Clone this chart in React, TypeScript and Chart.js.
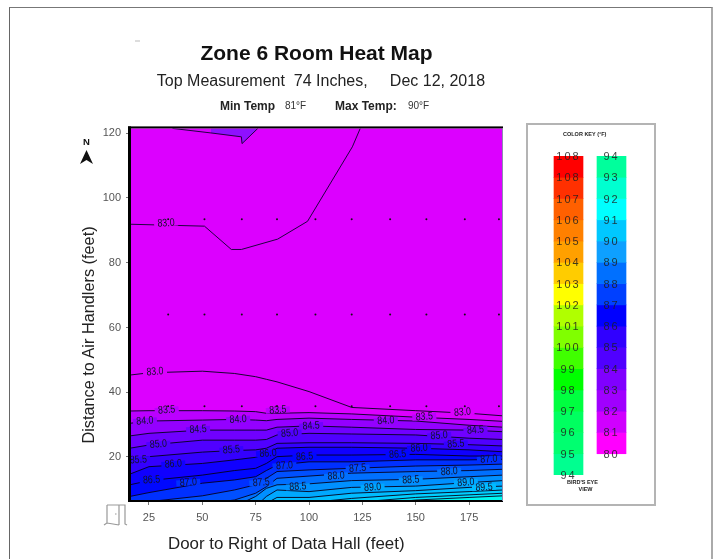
import React, { useEffect, useRef } from "react";
import { Chart, registerables } from "chart.js";

Chart.register(...registerables);

const FONT = "'Liberation Sans', Arial, sans-serif";

// ---- axes -----------------------------------------------------------------
const xTicks = [25, 50, 75, 100, 125, 150, 175];
const yTicks = [20, 40, 60, 80, 100, 120];
const xRange = [16.1, 190.9];
const yRange = [6.4, 121.5];

// ---- contour lines: y (feet) at each contourX (feet) ------------------------
const contourX = [16, 25, 50, 65, 75, 80, 85, 100, 120, 150, 175, 191];
const c830 = [45.3, 46.0, 46.5, 45.8, 44.8, 44.0, 43.2, 40.2, 35.3, 34.3, 33.5, 32.7];
const c835 = [34.2, 34.3, 34.3, 34.2, 34.0, 33.5, 33.5, 33.7, 33.3, 32.3, 31.6, 31.0];
const c840 = [30.4, 31.1, 31.4, 31.6, 31.4, 31.2, 31.6, 32.0, 31.6, 31.1, 29.8, 29.2];
const c845 = [26.5, 27.3, 28.3, 28.3, 28.3, 28.3, 29.2, 29.6, 29.2, 28.5, 28.3, 27.8];
const c850 = [22.7, 23.7, 25.2, 25.2, 25.2, 25.4, 26.8, 27.3, 27.1, 26.8, 25.8, 25.4];
const c855 = [19.1, 20.1, 21.5, 22.0, 22.2, 22.7, 24.2, 24.4, 24.4, 24.2, 23.8, 23.4];
const c860 = [14.7, 17.0, 18.0, 19.1, 19.9, 20.9, 22.7, 23.0, 23.0, 22.7, 22.2, 21.6];
const c865 = [11.4, 12.7, 14.4, 15.8, 16.5, 18.0, 20.1, 20.6, 20.6, 20.8, 20.3, 20.3];
const c870 = [7.8, 9.0, 11.9, 12.9, 13.9, 15.8, 17.5, 18.5, 18.5, 19.1, 19.1, 19.3];
const c875 = [3.6, 6.2, 8.0, 9.8, 11.4, 13.4, 15.5, 16.0, 16.5, 17.2, 17.5, 17.8];
const c880 = [0.5, 2.6, 5.5, 6.7, 8.8, 10.8, 13.4, 14.1, 15.0, 15.5, 15.8, 16.2];
const c885 = [-1.5, 0.5, 3.1, 4.7, 7.8, 10.3, 11.4, 11.7, 12.7, 13.1, 13.9, 14.4];
const c890 = [-4, -2, 0.5, 2, 4.7, 7.8, 9.8, 9.3, 10.6, 11.0, 12.1, 12.7];
const c895 = [-6, -4, -2, 0, 2.6, 5.7, 7.5, 7.5, 8.8, 9.6, 10.6, 11.0];
const c900 = [-8, -6, -4, -2, 0.5, 3.6, 5.7, 5.9, 7.2, 8.6, 9.3, 9.8];
const c905 = [-10, -8, -6, -4, -2, 1.6, 3.6, 3.8, 5.9, 7.5, 8.3, 8.8];
const c910 = [-12, -10, -8, -6, -4, -1, 1.6, 2.2, 4.7, 6.7, 7.5, 8.0];

const upperX = [16, 51, 63.6, 68.3, 85.3, 99.3, 120.3, 124];
const upperY = [91.9, 91.3, 84.1, 84.1, 87.3, 92.8, 115.8, 121.5];
const pocketEdgeX = [36, 54];
const pocketEdgeY = [121.5, 120.1];
const pocketX = [54, 68.3, 68.6, 76];
const pocketY = [120.1, 118.9, 116.8, 121.5];

// ---- sensor dots ------------------------------------------------------------
const dotX = [34, 51, 68.5, 85, 103, 120, 138, 155, 173, 189];
const dotY = [93.4, 64, 35.7];

// ---- contour label positions: [text, x, y] -----------------------------------
const contourLabels: [string, number, number][] = [
  ["83.0", 33, 92.2], ["83.0", 27.8, 46.3], ["83.0", 171.9, 33.8],
  ["83.5", 33.3, 34.5], ["83.5", 85.4, 34.5], ["83.5", 154, 32.4],
  ["84.0", 23.1, 31.1], ["84.0", 66.8, 31.6], ["84.0", 136, 31.2],
  ["84.5", 48, 28.5], ["84.5", 101, 29.6], ["84.5", 178, 28.3],
  ["85.0", 29.4, 23.9], ["85.0", 90.9, 27.3], ["85.0", 161, 26.6],
  ["85.5", 20, 19.1], ["85.5", 63.6, 22.2], ["85.5", 168.8, 24],
  ["86.0", 36.4, 17.8], ["86.0", 80.8, 21.1], ["86.0", 151.6, 22.7],
  ["86.5", 26.2, 12.9], ["86.5", 97.9, 20.1], ["86.5", 141.5, 20.8],
  ["87.0", 43.4, 12.1], ["87.0", 88.5, 17.3], ["87.0", 184.3, 19.3],
  ["87.5", 77.6, 12.1], ["87.5", 122.8, 16.5],
  ["88.0", 112.7, 14.1], ["88.0", 165.7, 15.5],
  ["88.5", 94.8, 10.8], ["88.5", 147.7, 12.9],
  ["89.0", 129.8, 10.6], ["89.0", 173.5, 12.1],
  ["89.5", 182, 10.6],
];

// ---- colour key ---------------------------------------------------------------
const keyColumns = ["warm", "cool"];
const warmLabels = ["108", "108", "107", "106", "105", "104", "103", "102", "101", "100", "99", "98", "97", "96", "95", "94"];
const coolLabels = ["94", "93", "92", "91", "90", "89", "88", "87", "86", "85", "84", "83", "82", "81", "80"];
const warmColors = ["#ff0000", "#ff3000", "#ff6000", "#ff8000", "#ffa000", "#ffcc00", "#ffff00", "#b0ff00", "#80ff00", "#40ff00", "#00ff00", "#00ff40", "#00ff60", "#00ff70", "#00ff90"];
const coolColors = ["#00ff9c", "#00ffd0", "#00ffff", "#00c8ff", "#0ea0ff", "#0070ff", "#0040ff", "#0000ff", "#3000ff", "#5000ff", "#8000ff", "#a000ff", "#d000ff", "#ff00ff"];

const MAGENTA = "#dc00ff";
const bands: [string, number[], string][] = [
  ["91.0", c910, "#00f8f0"],
  ["90.5", c905, "#00e4ff"],
  ["90.0", c900, "#00d0ff"],
  ["89.5", c895, "#00bcff"],
  ["89.0", c890, "#00a8ff"],
  ["88.5", c885, "#0090ff"],
  ["88.0", c880, "#0070ff"],
  ["87.5", c875, "#0050ff"],
  ["87.0", c870, "#0030ff"],
  ["86.5", c865, "#0008ff"],
  ["86.0", c860, "#1000ff"],
  ["85.5", c855, "#3400ff"],
  ["85.0", c850, "#5000ff"],
  ["84.5", c845, "#7000ff"],
  ["84.0", c840, "#9400ff"],
  ["83.5", c835, "#bb00ff"],
  ["83.0", c830, MAGENTA],
];

const zip = (xs: number[], ys: number[]) => xs.map((x, i) => ({ x, y: ys[i] }));

const plotDecor = {
  id: "plotDecor",
  beforeDatasetsDraw(chart: any) {
    const { ctx, chartArea: a } = chart;
    ctx.save();
    ctx.fillStyle = MAGENTA;
    ctx.fillRect(a.left, a.top, a.width, a.height);
    ctx.restore();
  },
  afterDatasetsDraw(chart: any) {
    const { ctx, chartArea: a, scales } = chart;
    ctx.save();
    ctx.beginPath();
    ctx.rect(a.left, a.top, a.width, a.height);
    ctx.clip();
    ctx.font = `10px ${FONT}`;
    ctx.textAlign = "center";
    ctx.textBaseline = "middle";
    contourLabels.forEach(([text, x, y]) => {
      const px = scales.x.getPixelForValue(x);
      const py = scales.y.getPixelForValue(y);
      const band = bands.find((b) => b[0] === text);
      ctx.save();
      ctx.translate(px, py);
      ctx.rotate(-0.07);
      ctx.fillStyle = band ? band[2] : MAGENTA;
      ctx.fillRect(-12, -3, 24, 6);
      ctx.scale(0.88, 1.1);
      ctx.fillStyle = "#14102a";
      ctx.fillText(text, 0, 0);
      ctx.restore();
    });
    ctx.restore();
    ctx.save();
    ctx.fillStyle = "#000";
    ctx.fillRect(a.left - 2, a.top - 2, a.width + 2, 2);
    ctx.fillRect(a.left - 2, a.top - 2, 3, a.height + 3);
    ctx.fillRect(a.left - 2, a.bottom - 1, a.width + 2, 2);
    ctx.fillStyle = "#8d8db0";
    ctx.fillRect(a.right - 1, a.top, 1, a.height);
    ctx.restore();
  },
};

const keyText = {
  id: "keyText",
  afterDatasetsDraw(chart: any) {
    const { ctx, scales } = chart;
    ctx.save();
    ctx.font = `11px ${FONT}`;
    ctx.textAlign = "center";
    ctx.textBaseline = "middle";
    (ctx as any).letterSpacing = "2px";
    ctx.fillStyle = "rgba(30,30,30,0.85)";
    [warmLabels, coolLabels].forEach((labels, col) => {
      const px = scales.x.getPixelForValue(col);
      labels.forEach((t, i) => ctx.fillText(t, px, scales.y.getPixelForValue(i) + 1));
    });
    ctx.restore();
  },
};

const abs = (left: number, top: number, extra: React.CSSProperties = {}): React.CSSProperties => ({
  position: "absolute",
  left,
  top,
  whiteSpace: "pre",
  fontFamily: FONT,
  lineHeight: 1,
  ...extra,
});

export default function App() {
  const mainRef = useRef<HTMLCanvasElement>(null);
  const keyRef = useRef<HTMLCanvasElement>(null);

  useEffect(() => {
    const thin = (label: string, xs: number[], ys: number[], extra: any = {}) => ({
      label,
      data: zip(xs, ys),
      showLine: true,
      tension: 0,
      pointRadius: 0,
      borderColor: "#200040",
      borderWidth: 1,
      fill: false,
      ...extra,
    });
    const main = new Chart(mainRef.current!, {
      type: "scatter",
      data: {
        datasets: [
          {
            label: "Sensors",
            data: dotY.flatMap((y) => dotX.map((x) => ({ x, y }))),
            pointRadius: 1,
            pointBackgroundColor: "#111",
            pointBorderWidth: 0,
            showLine: false,
          },
          ...bands.map(([label, ys, color]) =>
            thin(label, contourX, ys, { borderColor: "rgba(5,0,30,0.9)", backgroundColor: color, fill: "start" })
          ),
          thin("83.0 upper", upperX, upperY),
          thin("83.5 edge", pocketEdgeX, pocketEdgeY),
          thin("83.5 pocket", pocketX, pocketY, { backgroundColor: "#8f10ff", fill: "end" }),
        ],
      },
      options: {
        animation: false,
        responsive: false,
        layout: { padding: { left: 0, right: 214, top: 0, bottom: 28 } },
        plugins: {
          legend: { display: false },
          tooltip: { enabled: false },
          title: {
            display: true,
            fullSize: false,
            text: "Zone 6 Room Heat Map",
            color: "#111",
            font: { family: FONT, size: 21, weight: "bold" },
            padding: { top: 42, bottom: 0 },
          },
          subtitle: {
            display: true,
            fullSize: false,
            text: "  Top Measurement  74 Inches,     Dec 12, 2018",
            color: "#222",
            font: { family: FONT, size: 16, weight: "normal" },
            padding: { top: 5, bottom: 37 },
          },
        },
        scales: {
          x: {
            type: "linear",
            min: xRange[0],
            max: xRange[1],
            afterFit: (s: any) => {
              s.height = 30;
            },
            afterBuildTicks: (s: any) => {
              s.ticks = xTicks.map((value) => ({ value }));
            },
            border: { display: false },
            grid: { drawOnChartArea: false, color: "#777", tickLength: 4 },
            ticks: { color: "#555", font: { family: FONT, size: 11 }, padding: 6, maxRotation: 0, autoSkip: false },
          },
          y: {
            type: "linear",
            min: yRange[0],
            max: yRange[1],
            afterFit: (s: any) => {
              s.width = 130;
            },
            afterBuildTicks: (s: any) => {
              s.ticks = yTicks.map((value) => ({ value }));
            },
            border: { display: false },
            grid: { drawOnChartArea: false, color: "#777", tickLength: 4 },
            ticks: { color: "#555", font: { family: FONT, size: 11 }, padding: 5, autoSkip: false },
          },
        },
      } as any,
      plugins: [plotDecor],
    });

    const key = new Chart(keyRef.current!, {
      type: "bar",
      data: {
        labels: keyColumns,
        datasets: warmColors.map((warm, i) => ({
          label: warmLabels[i],
          data: [[i, i + 1], coolColors[i] ? [i, i + 1] : null],
          backgroundColor: [warm, coolColors[i] || warm],
          barThickness: 29,
          grouped: false,
        })) as any,
      },
      options: {
        animation: false,
        responsive: false,
        layout: { padding: { left: 19, right: 21, top: 31, bottom: 29 } },
        plugins: { legend: { display: false }, tooltip: { enabled: false } },
        scales: {
          x: { display: false },
          y: { display: false, reverse: true, min: 0, max: 15 },
        },
      } as any,
      plugins: [keyText],
    });

    return () => {
      main.destroy();
      key.destroy();
    };
  }, []);

  return (
    <div style={{ position: "fixed", inset: 0, width: 717, height: 559, overflow: "hidden", background: "#fff", filter: "blur(0.5px)" }}>
      <div style={{ position: "absolute", left: 9, top: 7, width: 701, height: 560, borderLeft: "1px solid #666", borderTop: "1px solid #777", borderRight: "2px solid #aaa" }} />
      <canvas ref={mainRef} width={717} height={559} style={{ position: "absolute", left: 0, top: 0 }} />

      <div style={abs(220, 100, { fontSize: 12, fontWeight: "bold", color: "#222" })}>Min Temp</div>
      <div style={abs(285, 101, { fontSize: 10, color: "#333" })}>81°F</div>
      <div style={abs(335, 100, { fontSize: 12, fontWeight: "bold", color: "#222" })}>Max Temp:</div>
      <div style={abs(408, 101, { fontSize: 10, color: "#333" })}>90°F</div>

      <div style={abs(168, 536, { fontSize: 16.9, color: "#222" })}>Door to Right of Data Hall (feet)</div>
      <div style={abs(88, 335, { fontSize: 16.3, color: "#222", transform: "translate(-50%,-50%) rotate(-90deg)" })}>Distance to Air Handlers (feet)</div>

      <svg width={717} height={559} style={{ position: "absolute", left: 0, top: 0 }}>
        <path d="M86.5 150 L93 164 L86.5 160 L80 164 Z" fill="#111" />
        <path d="M107 505 H125 V524 L127 525 M107 505 V523 L104 525 M119 505 V525 M107 523 L119 525 M115 514 H116.5" fill="none" stroke="#999" strokeWidth={1.2} />
        <path d="M135 41 L140 41" stroke="#bbb" strokeWidth={1} />
      </svg>
      <div style={abs(83, 137, { fontSize: 9.5, fontWeight: "bold", color: "#111" })}>N</div>

      <div style={{ position: "absolute", left: 526, top: 123, width: 126, height: 379, border: "2px solid #b4b4b4" }}>
        <canvas ref={keyRef} width={126} height={379} style={{ position: "absolute", left: 0, top: 0 }} />
      </div>
      <div style={abs(563, 132, { fontSize: 5.5, fontWeight: "bold", color: "#222" })}>COLOR KEY (°F)</div>
      <div style={abs(567, 479, { fontSize: 5.5, fontWeight: "bold", color: "#222", textAlign: "center", lineHeight: "7px" })}>{"BIRD'S EYE\n    VIEW"}</div>
    </div>
  );
}
